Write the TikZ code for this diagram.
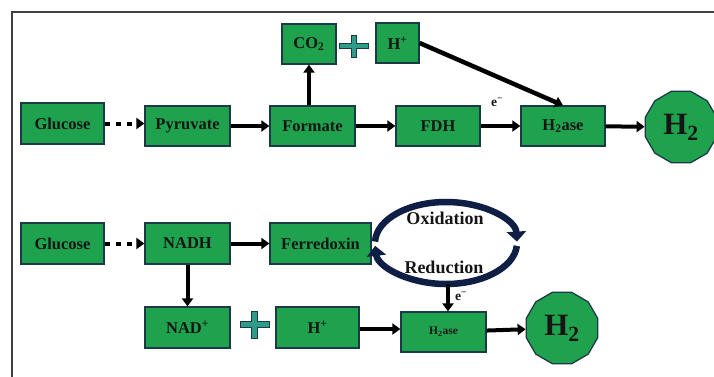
\documentclass[tikz,border=0pt]{standalone}
\usepackage{fontspec}
\setmainfont{Liberation Serif}
\usetikzlibrary{arrows.meta,shapes.geometric,calc}
\definecolor{boxgreen}{HTML}{1FA24E}
\definecolor{boxedge}{HTML}{1B3A45}
\definecolor{cyccol}{HTML}{0E1E45}
\definecolor{plusfill}{HTML}{2E9C88}
\definecolor{txt}{HTML}{151515}
\tikzset{
  box/.style={draw=boxedge, line width=1.3pt, fill=boxgreen, inner sep=0pt, text=txt,
    minimum width=84pt, minimum height=40pt, font=\fontsize{16.5}{18}\selectfont\bfseries},
  hbig/.style={regular polygon, regular polygon sides=12, draw=boxedge, line width=1.3pt,
    fill=boxgreen, minimum size=74pt, inner sep=0pt, text=txt,
    font=\fontsize{31}{33}\selectfont\bfseries},
  flow/.style={line width=4pt, -{Triangle[length=8pt,width=11pt]}},
  dotflow/.style={flow, dash pattern=on 5pt off 6pt},
  cycarrow/.style={draw=cyccol, line width=6.5pt, -{Triangle[length=10pt,width=19pt]}},
  elabel/.style={font=\fontsize{13.5}{14}\selectfont\bfseries, text=txt},
  cyclabel/.style={font=\fontsize{18}{19}\selectfont\bfseries, text=txt},
  plusstyle/.style={draw=boxedge, fill=plusfill, line width=0.9pt},
}
\newcommand\plusmark[4]{% center, half width, half height, half thickness
  \draw[plusstyle, shift={(#1)}] (-#4,#3) -- (#4,#3) -- (#4,#4) -- (#2,#4) -- (#2,-#4) -- (#4,-#4)
    -- (#4,-#3) -- (-#4,-#3) -- (-#4,-#4) -- (-#2,-#4) -- (-#2,#4) -- (-#4,#4) -- cycle;}
\begin{document}
\begin{tikzpicture}[x=1pt,y=1pt]
\useasboundingbox (0,0) rectangle (714,-376);
\draw[line width=1.3pt, draw=black!75] (12,-12) rectangle (740,-400);

% top row
\node[box, minimum width=83pt, minimum height=41pt] (glu1) at (62.5,-123.5) {Glucose};
\node[box, minimum width=85pt] (pyr) at (187.5,-126) {Pyruvate};
\node[box, minimum width=85pt] (form) at (312.5,-126) {Formate};
\node[box, minimum width=54pt] (co2) at (309,-44) {CO\textsubscript{2}};
\node[box, minimum width=43pt] (hp1) at (397.5,-43) {H\textsuperscript{+}};
\node[box] (fdh) at (438,-126) {FDH};
\node[box] (hase1) at (563,-126) {H\textsubscript{2}ase};
\node[hbig] (h2a) at (681,-127) {H\textsubscript{2}};
\plusmark{354,-46}{14.5}{11}{2.6}

\draw[dotflow] (glu1.east) -- (glu1.east -| pyr.west);
\draw[flow] (pyr) -- (form);
\draw[flow] (co2.south |- form.north) -- (co2.south);
\draw[flow] (form) -- (fdh);
\draw[flow] (fdh) -- (hase1);
\draw[flow] (hase1) -- (h2a);
\draw[flow, line width=4.5pt] (hp1.east) -- (hase1.north);
\node[elabel] (e1) at (497,-102) {e\textsuperscript{\char"2212}};

% bottom row
\node[box, minimum width=83pt, minimum height=41pt] (glu2) at (62.5,-243.5) {Glucose};
\node[box, minimum width=85pt, minimum height=41pt] (nadh) at (187.5,-243.5) {NADH};
\node[box, minimum width=101pt, minimum height=41pt] (ferr) at (320.5,-243.5) {Ferredoxin};
\node[box, minimum width=85pt, minimum height=41pt] (nad) at (187.5,-327.5) {NAD\textsuperscript{+}};
\node[box, minimum width=83pt, minimum height=41pt] (hp2) at (317.5,-327.5) {H\textsuperscript{+}};
\node[box, minimum width=85pt, font=\fontsize{11.5}{13}\selectfont\bfseries] (hase2) at (443.5,-332) {H\textsubscript{2}ase};
\node[hbig] (h2b) at (562,-328) {H\textsubscript{2}};
\plusmark{254.5,-324.5}{14.5}{13.5}{3}

\draw[dotflow] (glu2) -- (nadh);
\draw[flow] (nadh) -- (ferr);
\draw[flow] (nadh) -- (nad);
\draw[flow] (hp2.east |- 0,-329) -- (hase2.west |- 0,-329);
\draw[flow] (hase2) -- (h2b);

% redox cycle
\coordinate (cc) at (446,-243);
\draw[cycarrow] ($(cc)+(178:71pt and 41pt)$) arc[start angle=178, end angle=2, x radius=71pt, y radius=41pt];
\draw[cycarrow] ($(cc)+(-4:71pt and 41pt)$) arc[start angle=-4, end angle=-176, x radius=71pt, y radius=41pt];
\node[cyclabel] (ox) at (445,-218) {Oxidation};
\node[cyclabel] (red) at (444,-267) {Reduction};
\coordinate (cycbot) at (448,-284);
\draw[flow] (cycbot) -- (cycbot |- hase2.north);
\node[elabel] (e2) at (461,-296) {e\textsuperscript{\char"2212}};
\end{tikzpicture}
\end{document}
